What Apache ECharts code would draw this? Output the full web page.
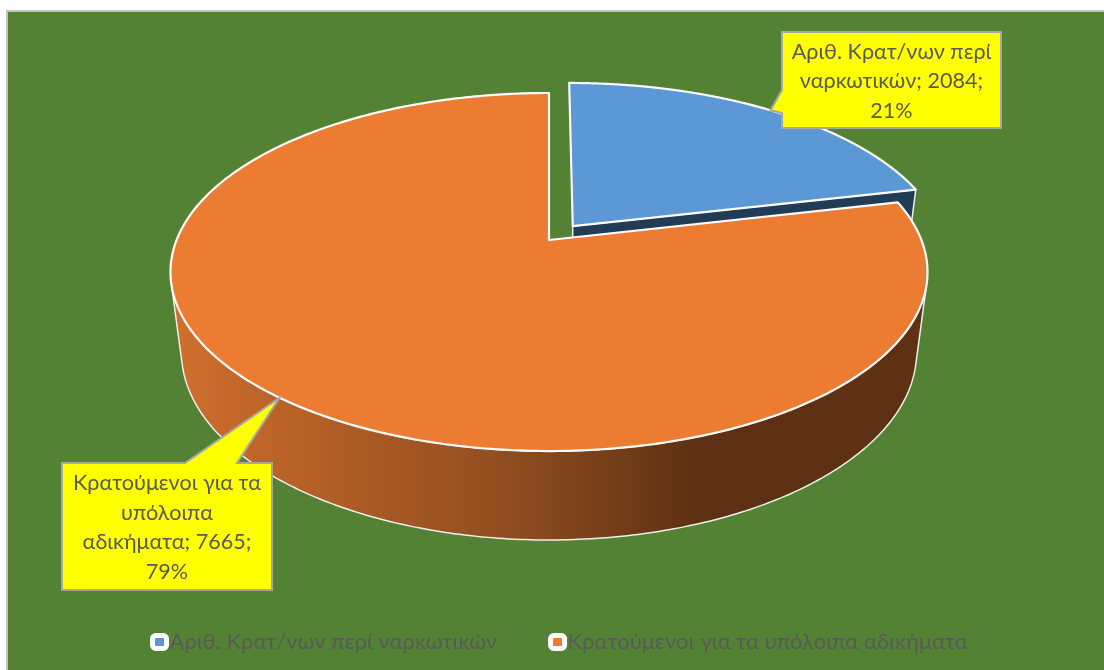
<!DOCTYPE html>
<html>
<head>
<meta charset="utf-8">
<style>html,body{margin:0;padding:0;background:#fff}#chart{width:1104px;height:670px}</style>
<script src="https://cdn.jsdelivr.net/npm/echarts@6/dist/echarts.min.js"></script>
</head>
<body>
<div id="chart"></div>
<script>
// Detainee counts by offence type
const categories = ['Αριθ. Κρατ/νων περί ναρκωτικών', 'Κρατούμενοι για τα υπόλοιπα αδικήματα'];
const detainees = [2084, 7665];
const labelLines = [
  ['Αριθ. Κρατ/νων περί', 'ναρκωτικών; {value};', '{percent}%'],
  ['Κρατούμενοι για τα', 'υπόλοιπα', 'αδικήματα; {value};', '{percent}%']
];
const explode = [0.104, 0];

const FONT = 'Lato, "Open Sans", sans-serif';
const total = detainees.reduce((a, b) => a + b, 0);

// Perspective camera for the tilted disk: u to the right, v toward the viewer, z downward
const cam = { x0: 549, y0: 240, a: 372.4, b: 173.3, p: 0.1788, c: 81.7, q: 0.0288 };
function project(u, v, z) {
  const w = 1 - cam.p * v + cam.q * z;
  return [cam.x0 + cam.a * u / w, cam.y0 + (cam.b * v + cam.c * z) / w];
}

// Angular extent of each slice, clockwise from twelve o'clock
const spans = [];
detainees.reduce((acc, d) => {
  const next = acc + d / total * Math.PI * 2;
  spans.push([acc, next]);
  return next;
}, 0);

function rimPoint(i, angle, z) {
  const mid = (spans[i][0] + spans[i][1]) / 2;
  const dx = Math.sin(mid) * explode[i], dy = -Math.cos(mid) * explode[i];
  return project(dx + Math.sin(angle), dy - Math.cos(angle), z);
}
function apexPoint(i, z) {
  const mid = (spans[i][0] + spans[i][1]) / 2;
  return project(Math.sin(mid) * explode[i], -Math.cos(mid) * explode[i], z);
}
function rimAngles(i) {
  const out = [], n = 400, [s, e] = spans[i];
  for (let k = 0; k <= n; k++) out.push(s + (e - s) * k / n);
  return out;
}
// Angles whose outer wall turns toward the camera
function facingAngles(i) {
  return rimAngles(i).filter((t) => {
    const h = 0.001;
    const a = rimPoint(i, t - h, 0), b = rimPoint(i, t + h, 0);
    const top = rimPoint(i, t, 0), bot = rimPoint(i, t, 1);
    const cross = (b[0] - a[0]) * (bot[1] - top[1]) - (b[1] - a[1]) * (bot[0] - top[0]);
    return cross < 0;
  });
}

const topColors = ['#5b98d5', '#eb7c32'];
const wallFills = [
  '#223c55',
  new echarts.graphic.LinearGradient(170, 0, 927, 0, [
    { offset: 0, color: '#d0702e' },
    { offset: 0.15, color: '#ba6227' },
    { offset: 0.45, color: '#8f4d1f' },
    { offset: 0.70, color: '#5d3013' },
    { offset: 1, color: '#5e3113' }
  ], true)
];

// Callout box rectangles with the base of their pointer on one edge
const callouts = [
  { x: 782, y: 32, w: 219, h: 96, base: [[782, 113], [782, 90]], side: 'left', textY: 52, lh: 29.5 },
  { x: 62, y: 463, w: 210, h: 127, base: [[185, 463], [237, 463]], side: 'top', textY: 483, lh: 29.7 }
];

function calloutOutline(c, tip) {
  const tl = [c.x, c.y], tr = [c.x + c.w, c.y], br = [c.x + c.w, c.y + c.h], bl = [c.x, c.y + c.h];
  return c.side === 'left'
    ? [tl, tr, br, bl, c.base[0], tip, c.base[1]]
    : [tl, c.base[0], tip, c.base[1], tr, br, bl];
}

function sliceRenderer(i) {
  return function () {
    const [s, e] = spans[i];
    const mid = (s + e) / 2;
    const children = [];
    const wallLine = { stroke: '#eeeeee', lineWidth: 1.5, lineJoin: 'round' };

    // radial cut face and, where it turns toward the camera, the outer wall
    children.push({
      type: 'polygon',
      shape: { points: [apexPoint(i, 0), rimPoint(i, e, 0), rimPoint(i, e, 1), apexPoint(i, 1)] },
      style: Object.assign({ fill: wallFills[i] }, wallLine)
    });
    const facing = facingAngles(i);
    if (facing.length > 1) {
      const upper = facing.map((t) => rimPoint(i, t, 0));
      const lower = facing.map((t) => rimPoint(i, t, 1)).reverse();
      children.push({
        type: 'polygon',
        shape: { points: upper.concat(lower) },
        style: Object.assign({ fill: wallFills[i] }, wallLine)
      });
    }

    // top face
    children.push({
      type: 'polygon',
      shape: { points: [apexPoint(i, 0)].concat(rimAngles(i).map((t) => rimPoint(i, t, 0))) },
      style: { fill: topColors[i], stroke: '#fbfbfb', lineWidth: 2.2, lineJoin: 'round' }
    });

    // callout anchored on the rim at the middle of the slice
    const c = callouts[i];
    children.push({
      type: 'polygon',
      shape: { points: calloutOutline(c, rimPoint(i, mid, 0)) },
      style: { fill: '#ffff00', stroke: '#a6a6a6', lineWidth: 2, lineJoin: 'miter' }
    });
    const percent = Math.round(detainees[i] / total * 100);
    labelLines[i].forEach((line, k) => {
      children.push({
        type: 'text',
        style: {
          x: c.x + c.w / 2,
          y: c.textY + k * c.lh,
          text: line.replace('{value}', detainees[i]).replace('{percent}', percent),
          fill: '#595959',
          font: '21.6px ' + FONT,
          align: 'center',
          verticalAlign: 'middle'
        }
      });
    });
    return { type: 'group', children };
  };
}

const chart = echarts.init(document.getElementById('chart'), null, { renderer: 'canvas' });
chart.setOption({
  animation: false,
  backgroundColor: '#ffffff',
  graphic: [{
    type: 'rect',
    z: -10,
    shape: { x: 7, y: 11, width: 1110, height: 670 },
    style: { fill: '#548235', stroke: '#c4c4c4', lineWidth: 2 }
  }],
  legend: {
    data: categories,
    left: 150,
    top: 631,
    padding: 0,
    itemWidth: 14,
    itemHeight: 13,
    itemGap: 51,
    icon: 'roundRect',
    itemStyle: { borderColor: '#ffffff', borderWidth: 5 },
    textStyle: { color: '#595959', fontSize: 22, fontFamily: FONT, padding: [0, 0, 0, -2] },
    selectedMode: false
  },
  series: categories.map((name, i) => ({
    type: 'custom',
    name,
    coordinateSystem: 'none',
    silent: true,
    itemStyle: { color: topColors[i] },
    renderItem: sliceRenderer(i),
    data: [detainees[i]]
  }))
});
</script>
</body>
</html>
